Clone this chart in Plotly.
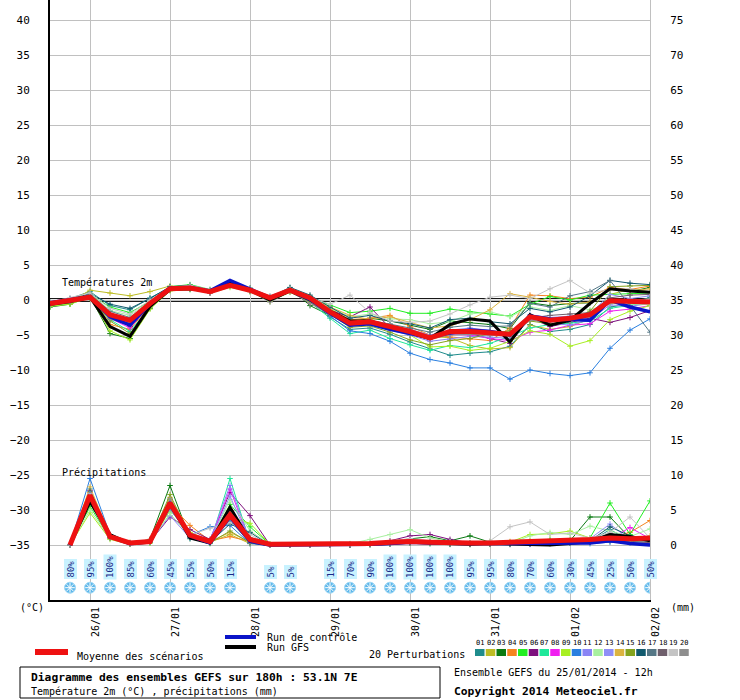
import plotly.graph_objects as go

# ---------------- data ----------------
hours_t = [0, 6, 12, 18, 24, 30, 36, 42, 48, 54, 60, 66, 72, 78, 84, 90, 96, 102, 108, 114,
           120, 126, 132, 138, 144, 150, 156, 162, 168, 174, 180]
hours_p = hours_t[1:]

date_tick_hours = [12, 36, 60, 84, 108, 132, 156, 180]
date_labels = ["26/01", "27/01", "28/01", "29/01", "30/01", "31/01", "01/02", "02/02"]

left_ticks = [-35, -30, -25, -20, -15, -10, -5, 0, 5, 10, 15, 20, 25, 30, 35, 40]
right_ticks = [0, 5, 10, 15, 20, 25, 30, 35, 40, 45, 50, 55, 60, 65, 70, 75]

member_names = ["01", "02", "03", "04", "05", "06", "07", "08", "09", "10",
                "11", "12", "13", "14", "15", "16", "17", "18", "19", "20"]
member_colors = ["#1f8c8c", "#bdbd24", "#0b7a12", "#f5841f", "#22ee22", "#7d0f7d", "#1fe89a",
                 "#f01ff0", "#a8ef22", "#2a7fe0", "#8a84f5", "#a8f0a0", "#8f8ff7", "#dcb440",
                 "#84a41e", "#115a6e", "#557786", "#6f5f6c", "#c4c4c4", "#8e8e8e"]

temp_members = [
    [-0.3, 0.2, 1.2, -0.8, -1.4, 0.3, 1.8, 2.0, 1.4, 2.4, 1.6, 0.5, 1.6, 0.1, -2.4, -4.2, -4.0, -4.9, -6.0, -7.0, -7.9, -7.6, -7.4, -6.6, -3.5, -4.5, -4.2, -3.5, -1.0, -0.6, 0.4],
    [-0.8, -0.3, 1.4, 1.0, 0.6, 1.2, 2.0, 1.8, 1.3, 2.0, 1.2, 0.0, 1.2, 0.4, -1.2, -2.8, -2.9, -3.5, -4.2, -5.2, -5.4, -6.5, -7.0, -6.8, -3.6, -4.2, -3.8, -2.7, 0.8, 1.5, 1.2],
    [-1.0, -0.6, 0.5, -4.8, -5.5, -1.2, 1.5, 1.6, 1.1, 2.3, 1.7, 0.2, 1.7, -0.8, -2.2, -3.2, -2.6, -3.0, -3.6, -4.2, -3.0, -3.2, -3.5, -4.1, -0.4, -0.8, -0.5, -0.4, 1.6, 1.2, 1.8],
    [-0.4, 0.1, 0.7, -3.5, -4.2, -0.8, 1.6, 1.9, 1.2, 2.1, 1.3, 0.2, 1.3, 0.4, -1.4, -2.8, -2.6, -2.2, -3.8, -5.0, -5.3, -5.6, -5.8, -4.0, 0.7, 0.6, 0.2, 0.4, 1.8, 1.5, 2.0],
    [-0.6, -0.2, 0.8, -1.0, -1.8, -0.2, 1.9, 2.2, 1.5, 2.2, 1.5, 0.3, 1.5, 0.4, -0.8, -1.8, -1.6, -1.2, -1.9, -1.9, -1.3, -1.7, -2.0, -2.3, -0.6, 0.5, 0.0, 0.7, 0.8, 0.9, 1.0],
    [-0.5, 0.0, 0.5, -2.0, -3.8, -0.6, 1.5, 1.6, 1.0, 2.2, 1.4, 0.1, 1.4, -0.2, -1.5, -2.4, -1.0, -4.0, -5.0, -5.6, -4.6, -4.8, -5.5, -6.2, -2.5, -3.8, -3.2, -2.6, -3.2, -2.5, -1.5],
    [-0.9, -0.5, 0.3, -2.8, -4.5, -1.0, 1.4, 1.5, 1.1, 2.0, 1.3, 0.0, 1.3, -0.3, -2.6, -4.8, -4.3, -5.5, -6.4, -7.2, -6.5, -6.8, -6.2, -5.2, -4.0, -3.5, -3.3, -3.0, -1.2, -0.8, -0.3],
    [-0.6, 0.0, 0.5, -2.6, -4.0, -0.7, 1.5, 1.7, 1.0, 2.6, 1.5, 0.2, 1.2, -0.4, -2.0, -3.6, -3.2, -4.1, -4.6, -5.3, -4.9, -5.0, -5.5, -5.8, -4.6, -4.3, -3.6, -3.4, -1.6, -1.3, -0.8],
    [-0.9, -0.6, 0.4, -4.4, -5.7, -1.3, 1.3, 1.5, 1.0, 1.8, 1.2, -0.2, 1.1, -0.2, -1.5, -2.9, -3.3, -3.9, -5.0, -6.7, -6.6, -7.2, -6.9, -5.9, -4.4, -4.9, -6.6, -5.8, -2.8, -1.6, -0.8],
    [-0.5, 0.0, 0.6, -1.9, -3.3, -0.4, 1.6, 1.8, 1.2, 2.4, 1.5, 0.3, 1.4, 0.0, -2.3, -4.4, -4.8, -5.9, -7.6, -8.5, -9.0, -9.7, -9.7, -11.3, -10.0, -10.5, -10.8, -10.4, -6.9, -4.3, -2.7],
    [-0.4, 0.2, 0.6, -2.4, -3.0, -0.4, 1.8, 1.6, 1.1, 2.2, 1.6, 0.4, 1.5, 0.2, -1.8, -3.4, -3.6, -4.3, -5.0, -5.9, -5.6, -5.2, -5.3, -5.5, -2.8, -3.3, -3.6, -2.8, -0.7, -0.9, -0.5],
    [-0.7, -0.2, 0.9, -1.5, -2.2, -0.3, 1.7, 2.0, 1.4, 2.0, 1.2, 0.1, 1.6, 0.6, -1.1, -2.4, -2.0, -2.7, -2.8, -3.4, -3.1, -2.0, -1.7, -2.4, -1.0, -1.5, -0.8, -1.4, -0.5, -0.6, -0.6],
    [-0.6, 0.0, 0.5, -2.3, -3.1, -0.6, 1.6, 1.8, 1.1, 2.1, 1.4, 0.3, 1.4, 0.2, -1.6, -3.5, -3.3, -3.8, -4.2, -5.0, -4.3, -4.0, -4.4, -4.7, -2.1, -2.5, -2.3, -2.0, 0.8, 0.2, 0.6],
    [-0.5, -0.1, 0.6, -2.1, -3.4, -0.4, 1.7, 1.9, 1.3, 2.3, 1.4, 0.2, 1.5, 0.5, -1.0, -2.2, -2.8, -2.4, -3.2, -4.0, -3.7, -2.8, -1.4, 0.9, 0.4, -0.2, -0.6, -0.3, 1.5, 1.3, 1.6],
    [-0.8, -0.4, 0.2, -3.0, -4.8, -1.0, 1.4, 1.6, 1.2, 2.0, 1.3, -0.1, 1.3, -0.3, -2.0, -3.9, -3.7, -4.6, -5.7, -6.4, -5.8, -5.5, -4.8, -4.4, -3.0, -3.4, -3.0, -1.6, 1.9, 2.0, 2.1],
    [-0.4, 0.1, 0.9, -0.6, -1.2, 0.2, 1.9, 2.1, 1.4, 2.6, 1.6, 0.4, 1.8, 0.7, -1.0, -2.6, -2.2, -3.0, -3.4, -4.0, -2.8, -2.6, -3.1, -3.4, -1.2, -1.7, -1.0, 0.6, 2.8, 2.4, 2.2],
    [-0.6, -0.1, 0.8, -1.6, -2.5, -0.3, 1.7, 2.0, 1.3, 2.4, 1.3, 0.1, 1.4, 0.1, -1.8, -3.0, -2.9, -3.4, -4.0, -4.6, -3.9, -3.6, -3.8, -3.7, -0.5, -1.0, 0.6, 1.2, 2.8, -0.8, -4.6],
    [-0.5, 0.0, 0.7, -2.2, -2.8, -0.5, 1.6, 1.7, 1.2, 2.5, 1.5, 0.0, 1.5, 0.2, -1.9, -3.3, -3.0, -3.7, -4.4, -5.2, -4.6, -4.2, -4.5, -4.9, -2.6, -2.2, -2.0, -1.8, 0.3, 0.7, 0.8],
    [-0.3, 0.3, 1.0, -1.2, -2.0, 0.0, 1.8, 2.1, 1.5, 2.3, 1.6, 0.6, 1.6, 0.3, -0.6, 0.7, -1.8, -3.0, -3.2, -3.0, -2.0, -0.7, 0.4, 0.7, 0.2, 1.6, 2.8, 1.0, 1.5, 1.6, 1.0],
    [-0.7, -0.3, 0.4, -2.7, -3.6, -0.8, 1.5, 1.6, 1.0, 2.1, 1.3, -0.3, 1.2, -0.5, -2.1, -3.7, -3.5, -4.2, -4.8, -5.6, -5.0, -4.9, -5.0, -5.2, -2.9, -3.1, -2.9, -2.4, -0.4, -0.1, 0.2],
]
temp_control = [-0.4, 0.0, 0.5, -2.4, -3.6, -0.5, 1.7, 1.8, 1.3, 2.8, 1.5, 0.3, 1.4, 0.1, -1.9, -3.6, -3.4, -4.2, -4.8, -5.3, -4.7, -4.3, -4.5, -5.0, -2.3, -2.7, -2.8, -2.9, 0.0, -1.0, -1.7]
temp_gfs = [-0.6, -0.2, 0.4, -3.8, -5.2, -0.9, 1.5, 1.6, 1.3, 2.5, 1.4, 0.0, 1.3, 0.0, -1.6, -3.0, -3.0, -3.9, -4.7, -5.5, -3.5, -2.7, -3.0, -6.0, -2.1, -3.6, -2.9, -0.5, 1.6, 1.3, 1.1]
temp_mean = [-0.5, -0.1, 0.4, -2.1, -2.9, -0.5, 1.6, 1.7, 1.2, 2.1, 1.4, 0.3, 1.4, 0.3, -1.7, -3.3, -3.1, -3.8, -4.5, -5.4, -4.5, -4.5, -4.7, -4.9, -2.4, -2.9, -2.6, -2.1, -0.1, -0.2, -0.3]

precip_members = [
    [0, 8.0, 1.3, 0.2, 0.5, 5.0, 1.6, 0.5, 3.5, 0.3, 0, 0, 0, 0, 0.1, 0.1, 0.2, 0.3, 0.2, 0.1, 0.1, 0.2, 0.1, 0.2, 0.3, 0.4, 0.5, 2.2, 0.6, 0.4],
    [0, 7.2, 1.1, 0.3, 0.6, 6.2, 1.2, 0.4, 1.5, 0.2, 0, 0, 0, 0, 0, 0.1, 0.3, 0.5, 0.3, 0.2, 0.1, 0.1, 0.2, 0.3, 0.2, 0.3, 0.6, 0.8, 0.4, 0.7],
    [0, 6.8, 1.4, 0.2, 0.8, 8.5, 0.9, 0.3, 4.8, 1.0, 0, 0, 0, 0, 0, 0.2, 0.5, 0.8, 1.2, 0.6, 1.3, 0.4, 0.2, 0.2, 0.3, 0.6, 4.0, 4.0, 1.0, 0.8],
    [0, 7.5, 1.2, 0.3, 0.4, 5.8, 2.8, 0.6, 1.2, 0.5, 0, 0, 0, 0, 0, 0.1, 0.2, 0.3, 0.4, 0.3, 0.2, 0.3, 0.2, 0.4, 0.6, 0.5, 0.7, 1.0, 1.8, 3.5],
    [0, 5.5, 1.0, 0.2, 0.3, 6.5, 1.5, 0.4, 5.8, 2.6, 0.1, 0, 0, 0, 0, 0.1, 0.3, 0.4, 0.3, 0.2, 0.2, 0.3, 0.2, 0.5, 0.8, 0.7, 1.0, 6.0, 1.5, 6.3],
    [0, 7.0, 1.3, 0.3, 0.5, 4.0, 2.2, 0.8, 7.5, 4.2, 0, 0, 0, 0, 0.1, 0.2, 0.6, 1.3, 1.5, 0.8, 0.3, 0.2, 0.1, 0.2, 0.3, 0.3, 0.4, 0.6, 0.5, 0.4],
    [0, 6.0, 1.0, 0.2, 0.4, 5.5, 1.0, 0.2, 9.5, 0.3, 0, 0, 0, 0, 0, 0.1, 0.2, 0.3, 0.2, 0.1, 0.1, 0.1, 0.2, 0.3, 0.4, 0.3, 0.5, 0.9, 0.6, 0.8],
    [0, 7.8, 1.2, 0.2, 0.6, 6.4, 1.3, 0.5, 8.0, 0.4, 0, 0, 0, 0, 0, 0.1, 0.4, 0.8, 0.6, 0.3, 0.2, 0.2, 0.3, 0.2, 0.3, 0.4, 0.6, 0.8, 2.5, 0.9],
    [0, 4.6, 0.8, 0.1, 0.3, 5.0, 1.8, 0.6, 4.0, 3.1, 0.1, 0, 0, 0, 0, 0.1, 0.3, 0.5, 0.4, 0.2, 0.3, 0.2, 0.4, 1.5, 1.6, 2.0, 1.0, 0.6, 0.4, 0.5],
    [0, 9.5, 1.5, 0.3, 0.7, 5.6, 1.4, 2.6, 2.8, 0.2, 0, 0, 0, 0, 0, 0.1, 0.2, 0.4, 0.3, 0.2, 0.2, 0.2, 0.1, 0.1, 0.2, 0.3, 0.2, 0.4, 0.3, 0.2],
    [0, 6.6, 1.1, 0.2, 0.5, 4.2, 1.0, 0.7, 8.5, 0.6, 0, 0, 0, 0, 0, 0.1, 0.3, 0.6, 0.5, 0.3, 0.2, 0.2, 0.3, 0.3, 0.3, 0.4, 0.5, 1.2, 0.9, 0.6],
    [0, 5.0, 0.9, 0.2, 0.4, 4.5, 1.2, 0.4, 6.5, 2.0, 0.1, 0, 0, 0, 0.2, 0.8, 1.5, 2.2, 1.0, 0.5, 0.3, 0.2, 0.2, 1.3, 1.8, 1.5, 2.7, 2.0, 1.2, 2.3],
    [0, 7.4, 1.2, 0.3, 0.5, 5.2, 1.1, 0.5, 7.0, 0.5, 0, 0, 0, 0, 0, 0.1, 0.3, 0.5, 0.4, 0.2, 0.2, 0.3, 0.3, 0.4, 0.4, 0.6, 0.9, 3.0, 0.7, 0.5],
    [0, 8.3, 1.4, 0.4, 0.7, 6.8, 1.7, 0.5, 1.8, 0.4, 0, 0, 0, 0, 0, 0.1, 0.3, 0.4, 0.3, 0.3, 0.2, 0.4, 0.5, 0.6, 0.5, 0.5, 0.8, 1.1, 0.9, 1.3],
    [0, 6.3, 1.0, 0.2, 0.5, 7.2, 1.3, 0.3, 2.0, 0.3, 0, 0, 0, 0, 0, 0.1, 0.2, 0.4, 0.3, 0.2, 0.1, 0.2, 0.2, 0.3, 0.4, 0.4, 0.6, 0.9, 0.7, 0.6],
    [0, 7.7, 1.3, 0.3, 0.6, 6.0, 1.5, 0.4, 3.0, 1.8, 0, 0, 0, 0, 0, 0.1, 0.3, 0.5, 0.4, 0.3, 0.2, 0.3, 0.3, 0.4, 0.3, 0.5, 0.6, 2.6, 1.3, 0.9],
    [0, 7.1, 1.2, 0.3, 0.5, 5.3, 1.2, 0.4, 4.6, 0.6, 0, 0, 0, 0, 0, 0.1, 0.2, 0.4, 0.3, 0.2, 0.2, 0.2, 0.2, 0.3, 0.3, 0.4, 0.5, 1.7, 0.8, 0.7],
    [0, 6.9, 1.1, 0.2, 0.4, 5.9, 1.1, 0.3, 3.8, 0.4, 0, 0, 0, 0, 0, 0.1, 0.2, 0.3, 0.3, 0.2, 0.1, 0.2, 0.2, 0.2, 0.3, 0.3, 0.4, 0.7, 0.5, 0.4],
    [0, 7.3, 1.2, 0.3, 0.5, 5.7, 1.4, 2.4, 3.2, 1.5, 0, 0, 0, 0, 0.1, 0.3, 0.6, 0.9, 0.6, 0.4, 0.3, 0.6, 2.6, 3.3, 1.5, 1.7, 1.0, 1.8, 4.0, 1.0],
    [0, 6.4, 1.0, 0.2, 0.4, 6.6, 1.6, 0.6, 4.2, 0.5, 0, 0, 0, 0, 0, 0.1, 0.2, 0.4, 0.3, 0.2, 0.2, 0.2, 0.2, 0.3, 0.4, 0.4, 0.5, 0.8, 0.6, 0.5],
]
precip_control = [0, 7.0, 1.2, 0.2, 0.5, 5.8, 1.3, 0.3, 4.0, 0.5, 0, 0, 0, 0, 0, 0.1, 0.2, 0.4, 0.3, 0.2, 0.2, 0.2, 0.2, 0.3, 0.3, 0.2, 0.3, 0.6, 0.2, 0.0]
precip_gfs = [0, 6.2, 1.5, 0.2, 0.4, 6.0, 1.0, 0.3, 5.4, 0.6, 0, 0, 0, 0, 0, 0.1, 0.2, 0.4, 0.3, 0.2, 0.1, 0.2, 0.1, 0.0, 0.0, 0.2, 0.5, 1.5, 1.2, 0.6]
precip_mean = [0, 7.1, 1.2, 0.3, 0.5, 6.0, 1.4, 0.5, 4.3, 0.8, 0.1, 0.1, 0.1, 0.1, 0.1, 0.2, 0.4, 0.5, 0.4, 0.3, 0.3, 0.3, 0.4, 0.5, 0.5, 0.6, 0.8, 1.0, 0.9, 1.0]

snow_pct = [80, 95, 100, 85, 60, 45, 55, 50, 15, None, 5, 5, None, 15, 70, 90, 100, 100, 100, 100,
            95, 95, 80, 70, 60, 30, 45, 25, 50, 50]

FONT = "DejaVu Sans Mono"
Y_LO, Y_HI = -300 / 7, 300 / 7

fig = go.Figure()

# perturbations - temperature
for name, col, t in zip(member_names, member_colors, temp_members):
    fig.add_trace(go.Scatter(x=hours_t, y=t, mode="lines+markers", yaxis="y",
                             line=dict(color=col, width=1),
                             marker=dict(symbol="cross-thin", size=4, line=dict(color=col, width=1)),
                             showlegend=False, hoverinfo="skip"))
# perturbations - precipitation
for name, col, p in zip(member_names, member_colors, precip_members):
    fig.add_trace(go.Scatter(x=hours_p, y=p, mode="lines+markers", yaxis="y2",
                             line=dict(color=col, width=1),
                             marker=dict(symbol="cross-thin", size=4, line=dict(color=col, width=1)),
                             showlegend=False, hoverinfo="skip"))

for ax, t, p in [("gfs", temp_gfs, precip_gfs), ("ctl", temp_control, precip_control)]:
    col = "#000000" if ax == "gfs" else "#0a14c8"
    w = 3 if ax == "gfs" else 3.5
    fig.add_trace(go.Scatter(x=hours_t, y=t, mode="lines", yaxis="y",
                             line=dict(color=col, width=w), showlegend=False, hoverinfo="skip"))
    fig.add_trace(go.Scatter(x=hours_p, y=p, mode="lines", yaxis="y2",
                             line=dict(color=col, width=w), showlegend=False, hoverinfo="skip"))

fig.add_trace(go.Scatter(x=hours_t, y=temp_mean, mode="lines", yaxis="y",
                         line=dict(color="#ee1111", width=5), showlegend=False, hoverinfo="skip"))
fig.add_trace(go.Scatter(x=hours_p, y=precip_mean, mode="lines", yaxis="y2",
                         line=dict(color="#ee1111", width=5), showlegend=False, hoverinfo="skip"))

# snow icons
snow_x = [h for h, v in zip(hours_p, snow_pct) if v is not None]
snow_v = [v for v in snow_pct if v is not None]
flake_y = [-41.1] * len(snow_x)
fig.add_trace(go.Scatter(x=snow_x, y=flake_y, mode="markers", yaxis="y",
                         marker=dict(symbol="circle", size=11, color="#5fb8ea",
                                     line=dict(color="#9fd8f6", width=1)),
                         showlegend=False, hoverinfo="skip"))
fig.add_trace(go.Scatter(x=snow_x, y=flake_y, mode="markers", yaxis="y",
                         marker=dict(symbol="asterisk-open", size=8, color="white",
                                     line=dict(color="white", width=1)),
                         showlegend=False, hoverinfo="skip"))

annotations = []
for h, v in zip(snow_x, snow_v):
    annotations.append(dict(x=h, y=-40.0, xref="x", yref="y", text=f"{v}%", showarrow=False,
                            textangle=-90, yanchor="bottom", xanchor="center",
                            font=dict(family=FONT, size=9, color="#1a2a8a"),
                            bgcolor="#c8f2ff", borderpad=1))

def px(xp):
    return (xp - 50) / 600.0

def py(yp):
    return (600 - yp) / 600.0

def txt(x, y, s, size=10, bold=False, xanchor="left"):
    annotations.append(dict(x=px(x), y=py(y), xref="paper", yref="paper",
                            text=f"<b>{s}</b>" if bold else s, showarrow=False,
                            xanchor=xanchor, yanchor="middle",
                            font=dict(family=FONT, size=size, color="black")))

txt(60, 282, "Températures 2m", 10)
txt(60, 472, "Précipitations", 10)
txt(32, 607, "(°C)", 10, xanchor="center")
txt(683, 607, "(mm)", 10, xanchor="center")
txt(75, 656, "Moyenne des scénarios", 10)
txt(265, 637, "Run de contrôle", 10)
txt(265, 647, "Run GFS", 10)
txt(467, 655, "20 Perturbations", 10, xanchor="right")
txt(29, 678, "Diagramme des ensembles GEFS sur 180h : 53.1N 7E", 11.3, bold=True)
txt(29, 691, "Température 2m (°C) , précipitations (mm)", 10)
txt(452, 672, "Ensemble GEFS du 25/01/2014 - 12h", 10)
txt(452, 691, "Copyright 2014 Meteociel.fr", 11.3, bold=True)

shapes = []
# zero double line
for yv in (0.2, -0.2):
    shapes.append(dict(type="line", xref="paper", yref="y", x0=0, x1=1, y0=yv, y1=yv,
                       line=dict(color="black", width=1), layer="below"))
# legend bars
shapes.append(dict(type="line", xref="paper", yref="paper", x0=px(35), x1=px(68), y0=py(652), y1=py(652),
                   line=dict(color="#ee1111", width=6)))
shapes.append(dict(type="line", xref="paper", yref="paper", x0=px(225), x1=px(256), y0=py(637), y1=py(637),
                   line=dict(color="#0a14c8", width=4)))
shapes.append(dict(type="line", xref="paper", yref="paper", x0=px(225), x1=px(256), y0=py(647), y1=py(647),
                   line=dict(color="#000000", width=4)))
for k, (name, col) in enumerate(zip(member_names, member_colors)):
    x0 = 475 + 10.75 * k
    shapes.append(dict(type="rect", xref="paper", yref="paper", x0=px(x0), x1=px(x0 + 9.5),
                       y0=py(656), y1=py(649), fillcolor=col, line=dict(width=0)))
    annotations.append(dict(x=px(x0 + 4.75), y=py(643), xref="paper", yref="paper", text=name,
                            showarrow=False, xanchor="center", yanchor="middle",
                            font=dict(family=FONT, size=7, color="black")))
# title box
shapes.append(dict(type="rect", xref="paper", yref="paper", x0=px(20), x1=px(440), y0=py(698), y1=py(667),
                   line=dict(color="black", width=1), fillcolor="rgba(0,0,0,0)"))

fig.update_layout(
    width=740, height=700,
    margin=dict(l=50, r=90, t=0, b=100, pad=0),
    paper_bgcolor="white", plot_bgcolor="white",
    font=dict(family=FONT, size=11, color="black"),
    showlegend=False,
    xaxis=dict(range=[0, 180], tickvals=date_tick_hours, ticktext=date_labels, tickangle=-90,
               showgrid=True, gridcolor="#c0c0c0", gridwidth=1, zeroline=False,
               showline=True, linecolor="black", linewidth=2, ticks="",
               ticklabelshift=6, ticklabelstandoff=1, tickfont=dict(family=FONT, size=10)),
    yaxis=dict(range=[Y_LO, Y_HI], tickvals=left_ticks, showgrid=True, gridcolor="#c0c0c0",
               gridwidth=1, zeroline=False, showline=True, linecolor="black", linewidth=2,
               ticks="", ticklabelstandoff=16, tickfont=dict(family=FONT, size=11)),
    yaxis2=dict(range=[Y_LO + 35, Y_HI + 35], tickvals=right_ticks, overlaying="y", side="right",
                showgrid=False, zeroline=False, showline=True, linecolor="#c0c0c0", linewidth=1,
                ticks="", ticklabelstandoff=17, tickfont=dict(family=FONT, size=11)),
    shapes=shapes,
    annotations=annotations,
)

fig.write_html("out.html", config={"displayModeBar": False},
               post_script="document.body.style.margin='0';document.body.style.padding='0';")
